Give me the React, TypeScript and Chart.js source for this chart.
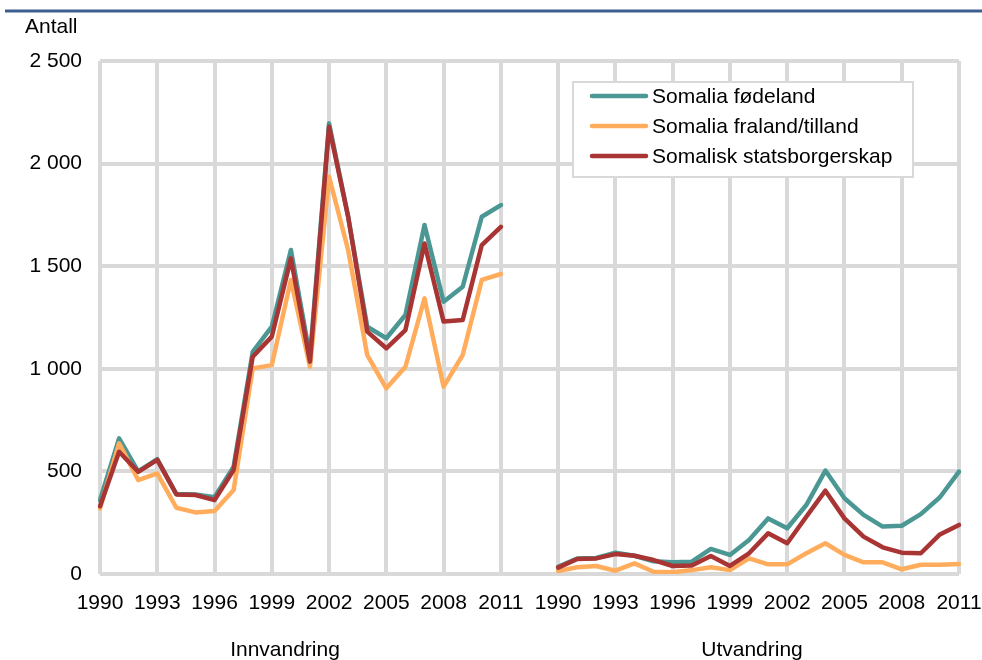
import React, { useEffect, useRef } from "react";
import { Chart, registerables } from "chart.js";

Chart.register(...registerables);

const years: string[] = [
  "1990","1991","1992","1993","1994","1995","1996","1997","1998","1999","2000",
  "2001","2002","2003","2004","2005","2006","2007","2008","2009","2010","2011",
];
const gapLabels: string[] = ["", ""];
const categories: string[] = [...years, ...gapLabels, ...years];

const seriesNames: string[] = [
  "Somalia fødeland",
  "Somalia fraland/tilland",
  "Somalisk statsborgerskap",
];
const panelTitles: string[] = ["Innvandring", "Utvandring"];
const yTicks: number[] = [0, 500, 1000, 1500, 2000, 2500];

// Innvandring 1990-2011
const innFodeland: number[] = [360, 661, 500, 560, 390, 388, 374, 523, 1083, 1205, 1579, 1059, 2196, 1741, 1205, 1149, 1262, 1701, 1327, 1400, 1741, 1798];
const innFraland: number[] = [320, 637, 458, 490, 323, 300, 307, 409, 1002, 1018, 1433, 1010, 1936, 1579, 1067, 905, 1010, 1343, 913, 1067, 1433, 1462];
const innStatsb: number[] = [330, 596, 498, 556, 388, 385, 360, 507, 1059, 1157, 1538, 1035, 2180, 1741, 1181, 1100, 1189, 1611, 1230, 1238, 1603, 1692];

// Utvandring 1990-2011
const utFodeland: number[] = [35, 75, 78, 104, 89, 62, 57, 60, 122, 93, 166, 271, 223, 336, 504, 369, 288, 231, 235, 292, 374, 499];
const utFraland: number[] = [15, 33, 39, 16, 52, 11, 8, 19, 33, 19, 76, 47, 47, 101, 150, 93, 57, 57, 23, 45, 45, 49];
const utStatsb: number[] = [31, 73, 76, 97, 89, 68, 39, 41, 88, 39, 101, 198, 150, 279, 406, 271, 182, 130, 104, 101, 193, 239];

const gapValues: (number | null)[] = [null, null];

const colors: string[] = ["#4b9793", "#ffad5c", "#a83434"];

const FONT = "'Liberation Sans', Arial, sans-serif";

function formatThousands(v: number): string {
  return String(v).replace(/\B(?=(\d{3})+(?!\d))/g, " ");
}

const decorPlugin = {
  id: "decor",
  afterDraw(chart: any) {
    const ctx = chart.ctx as CanvasRenderingContext2D;
    ctx.save();
    // top rule
    ctx.fillStyle = "#3e5f8e";
    ctx.fillRect(5, 9.5, 977, 3);
    ctx.fillStyle = "#000";
    ctx.font = `21px ${FONT}`;
    ctx.textBaseline = "alphabetic";
    ctx.textAlign = "left";
    ctx.fillText("Antall", 25, 33);
    ctx.textAlign = "center";
    ctx.fillText(panelTitles[0], 285, 656);
    ctx.fillText(panelTitles[1], 752, 656);

    // legend
    const bx = 573, by = 82, bw = 340, bh = 95;
    ctx.fillStyle = "#fff";
    ctx.fillRect(bx, by, bw, bh);
    ctx.strokeStyle = "#d9d9d9";
    ctx.lineWidth = 2;
    ctx.strokeRect(bx, by, bw, bh);
    ctx.textAlign = "left";
    ctx.textBaseline = "middle";
    seriesNames.forEach((name, i) => {
      const y = 96 + i * 30;
      ctx.strokeStyle = colors[i];
      ctx.lineWidth = 4.5;
      ctx.lineCap = "round";
      ctx.beginPath();
      ctx.moveTo(592, y);
      ctx.lineTo(646, y);
      ctx.stroke();
      ctx.fillStyle = "#000";
      ctx.fillText(name, 652, y + 1);
    });
    ctx.restore();
  },
};

export default function App() {
  const ref = useRef<HTMLCanvasElement | null>(null);

  useEffect(() => {
    if (!ref.current) return;
    const mk = (a: number[], b: number[]) => [...a, ...gapValues, ...b];
    const datasets = [
      { label: seriesNames[0], data: mk(innFodeland, utFodeland), borderColor: colors[0], order: 2 },
      { label: seriesNames[1], data: mk(innFraland, utFraland), borderColor: colors[1], order: 1 },
      { label: seriesNames[2], data: mk(innStatsb, utStatsb), borderColor: colors[2], order: 0 },
    ].map((d) => ({
      ...d,
      borderWidth: 4.5,
      pointRadius: 0,
      pointHoverRadius: 0,
      tension: 0,
      spanGaps: false,
      fill: false,
      borderJoinStyle: "round" as const,
      borderCapStyle: "round" as const,
    }));

    const chart = new Chart(ref.current, {
      type: "line",
      data: { labels: categories, datasets },
      options: {
        animation: false,
        responsive: false,
        devicePixelRatio: 1,
        layout: { padding: { left: 0, right: 23, top: 61, bottom: 0 } },
        plugins: { legend: { display: false }, tooltip: { enabled: false } },
        scales: {
          x: {
            type: "category",
            offset: false,
            afterFit: (s: any) => {
              s.height = 86;
              s.paddingLeft = 0;
              s.paddingRight = 0;
            },
            grid: {
              color: (c: any) => (c.index % 3 === 0 ? "#d9d9d9" : "rgba(0,0,0,0)"),
              lineWidth: 4,
              drawTicks: false,
            },
            border: { display: false },
            ticks: {
              autoSkip: false,
              maxRotation: 0,
              minRotation: 0,
              padding: 17,
              color: "#000",
              font: { family: FONT, size: 21 },
              callback: (_v: any, i: number) => (i % 3 === 0 ? categories[i] : ""),
            },
          },
          y: {
            min: 0,
            max: 2500,
            afterFit: (s: any) => {
              s.width = 100;
              s.paddingTop = 0;
              s.paddingBottom = 0;
            },
            afterBuildTicks: (s: any) => {
              s.ticks = yTicks.map((v) => ({ value: v }));
            },
            grid: { color: "#d9d9d9", lineWidth: 4, drawTicks: false },
            border: { display: false },
            ticks: {
              padding: 18,
              color: "#000",
              font: { family: FONT, size: 21 },
              callback: (v: any) => formatThousands(Number(v)),
            },
          },
        },
      },
      plugins: [decorPlugin],
    });
    return () => chart.destroy();
  }, []);

  return (
    <div style={{ position: "absolute", left: 0, top: 0, width: 982, height: 660, background: "#fff" }}>
      <canvas ref={ref} width={982} height={660} style={{ display: "block" }} />
    </div>
  );
}
